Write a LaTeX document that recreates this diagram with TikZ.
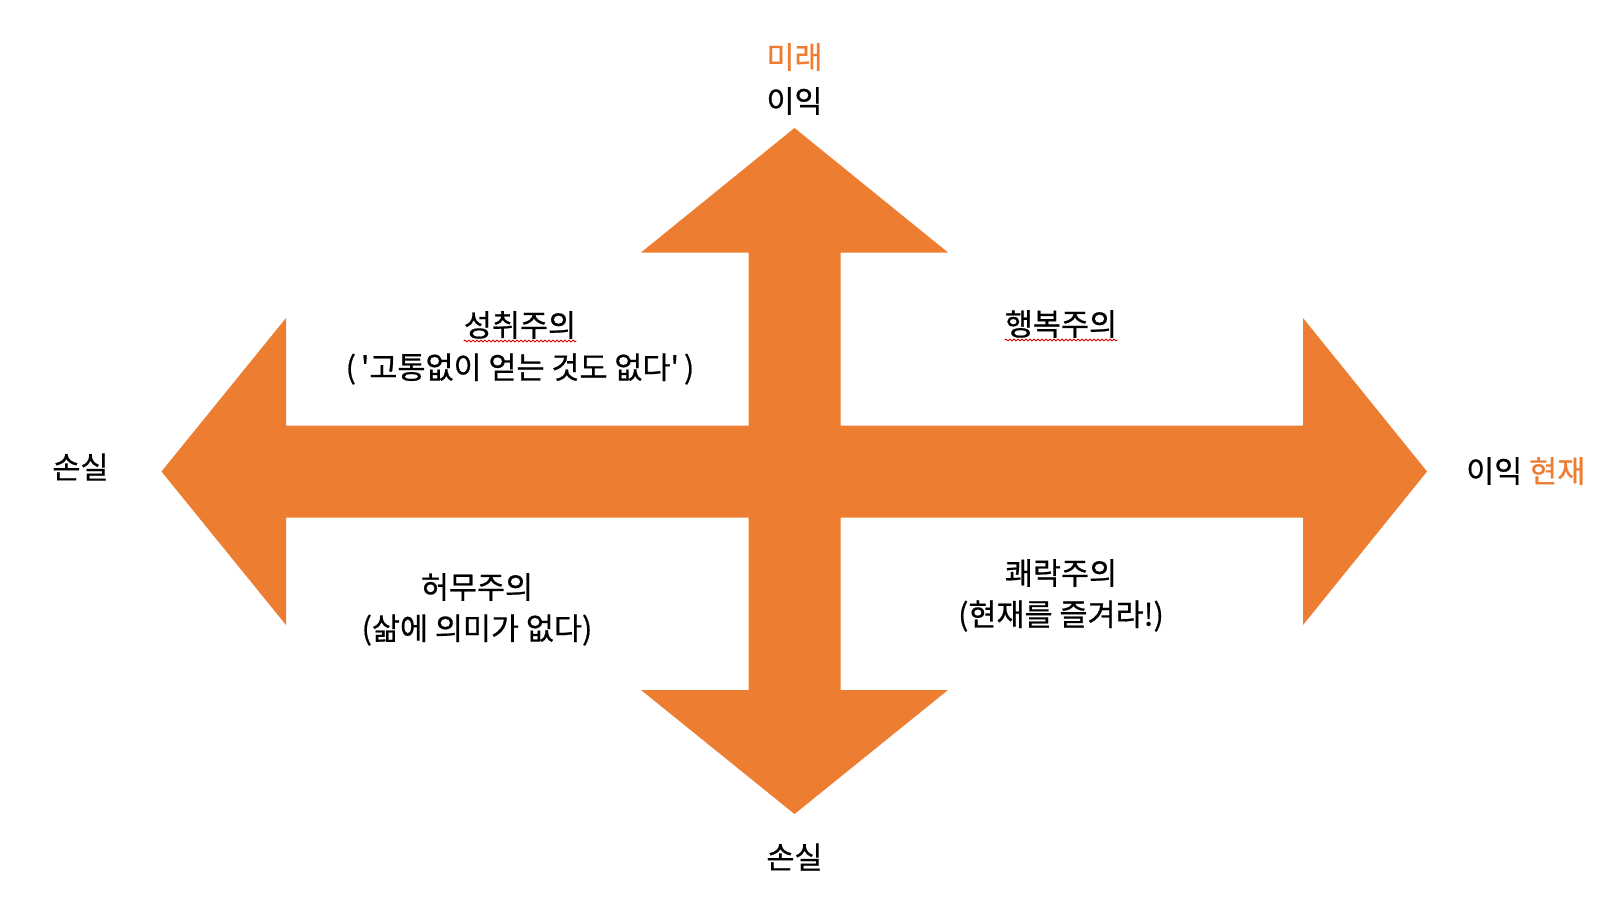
\documentclass[tikz,border=0pt]{standalone}
\usepackage{fontspec}
\setmainfont{Noto Sans CJK KR}[FakeBold=0.6]
\usetikzlibrary{decorations.pathmorphing}
\definecolor{accent}{HTML}{ED7D31}
\newcommand{\sq}{\textquotesingle}
\tikzset{
  lbl/.style={inner sep=0pt, align=center, font=\fontsize{30.5}{44}\selectfont, text=black},
  hot/.style={lbl, text=accent},
  spell/.style={draw=red!85!black, line width=0.9pt, decorate, decoration={snake, amplitude=0.9pt, segment length=4pt}},
  crossarrow/.style={fill=accent, draw=none}
}
\begin{document}
\begin{tikzpicture}[x=1pt,y=-1pt]
\useasboundingbox (0,0) rectangle (1600,913);
% four-headed arrow
\fill[crossarrow] (794.5,128) -- (948,252.5) -- (840.5,252.5) -- (840.5,425.5)
  -- (1303,425.5) -- (1303,318) -- (1427,471.5) -- (1303,625) -- (1303,517.5)
  -- (840.5,517.5) -- (840.5,690) -- (948,690) -- (794.5,814) -- (641,690)
  -- (748.5,690) -- (748.5,517.5) -- (286,517.5) -- (286,625) -- (161.5,471.5)
  -- (286,318) -- (286,425.5) -- (748.5,425.5) -- (748.5,252.5) -- (641,252.5) -- cycle;
% axis labels
\node[hot] (future) at (794.5,57) {미래};
\node[lbl] (gainTop) at (794.5,101) {이익};
\node[lbl] (lossLeft) at (80.5,467) {손실};
\node[lbl, anchor=west] (gainRight) at (1466,471) {이익 \textcolor{accent}{현재}};
\node[lbl] (lossBottom) at (794.5,857) {손실};
% quadrant labels
\node[lbl] (achieve) at (520,325) {성취주의};
\node[lbl] (achieveSub) at (520,369) {(\hspace{5pt}\sq 고통없이 얻는 것도 없다\sq\hspace{5pt})};
\node[lbl] (happy) at (1061,324) {행복주의};
\node[lbl] (nihil) at (477,587) {허무주의};
\node[lbl] (nihilSub) at (477,630) {(삶에 의미가 없다)};
\node[lbl] (hedon) at (1061,573) {쾌락주의};
\node[lbl] (hedonSub) at (1061,616) {(현재를 즐겨라!)};
% spell-check underlines
\draw[spell] (achieve.south west |- 0,341) -- (achieve.south east |- 0,341);
\draw[spell] (happy.south west |- 0,340) -- (happy.south east |- 0,340);
\end{tikzpicture}
\end{document}
